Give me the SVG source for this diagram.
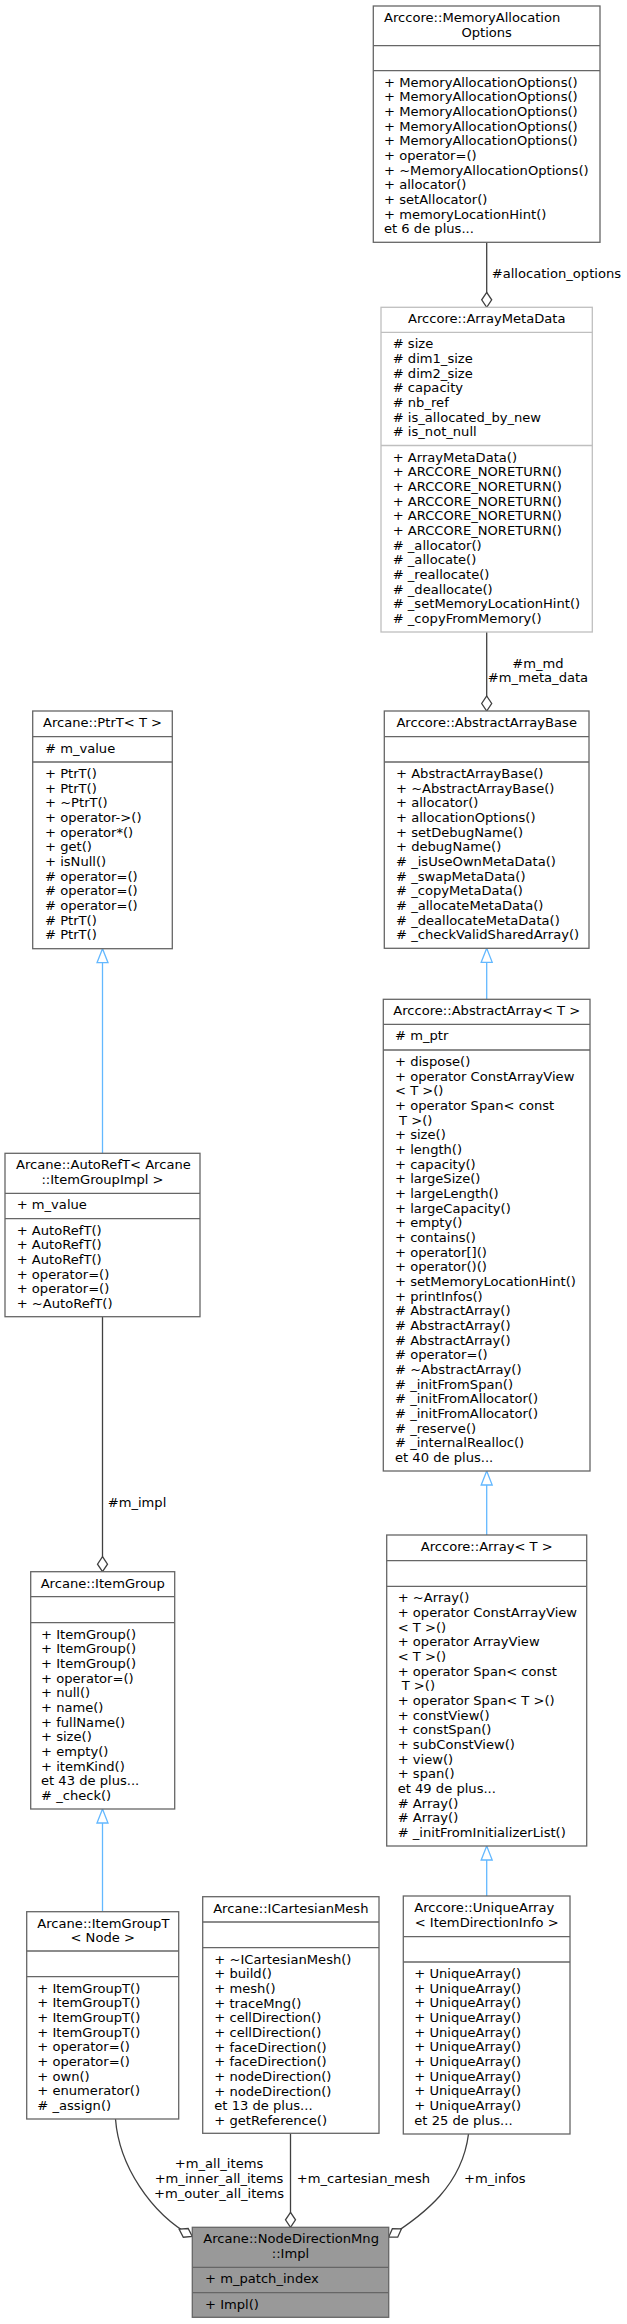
<svg xmlns="http://www.w3.org/2000/svg" width="627" height="2324" viewBox="0 0 627 2324">
<style>
text{font-family:"DejaVu Sans","Liberation Sans",sans-serif;font-size:13.1px;fill:#000}
.m{text-anchor:middle}
.box{fill:#fff;stroke:#666;stroke-width:1.3}
.light{stroke:#bfbfbf}
.main{fill:#999;stroke:#666}
.sep{stroke:#666;stroke-width:1.3}
.seplight{stroke:#bfbfbf;stroke-width:1.3}
.agg{fill:none;stroke:#404040;stroke-width:1.3}
.inh{fill:none;stroke:#63b8ff;stroke-width:1.3}
.lbl{fill:#000}
</style>
<defs>
<marker id="diamond" markerUnits="userSpaceOnUse" viewBox="-1 -7 17 14" refX="15" refY="0" markerWidth="17" markerHeight="14" orient="auto">
<path d="M0,0 L7.5,-5 L15,0 L7.5,5 Z" fill="#fff" stroke="#404040" stroke-width="1.3"/>
</marker>
<marker id="tri" markerUnits="userSpaceOnUse" viewBox="-1 -7 16 14" refX="14" refY="0" markerWidth="16" markerHeight="14" orient="auto">
<path d="M0,-5.5 L14,0 L0,5.5 Z" fill="#fff" stroke="#63b8ff" stroke-width="1.3"/>
</marker>
</defs>
<g id="edges">
<path class="agg" d="M486.7,242.3 V307.3" marker-end="url(#diamond)"/>
<text x="491.7" y="278">#allocation_options</text>
<path class="agg" d="M486.7,632 V711" marker-end="url(#diamond)"/>
<text class="m" x="538" y="667.5">#m_md</text>
<text class="m" x="538" y="682.2">#m_meta_data</text>
<path class="inh" d="M486.7,999.3 V948.3" marker-end="url(#tri)"/>
<path class="inh" d="M486.7,1535 V1471" marker-end="url(#tri)"/>
<path class="inh" d="M486.7,1896 V1846" marker-end="url(#tri)"/>
<path class="inh" d="M102.5,1153.3 V948.7" marker-end="url(#tri)"/>
<path class="agg" d="M102.5,1316.7 V1571.7" marker-end="url(#diamond)"/>
<text x="107.7" y="1506.7">#m_impl</text>
<path class="inh" d="M102.5,1911.7 V1809" marker-end="url(#tri)"/>
<path class="agg" d="M115.5,2119 C119,2165 150,2213 192.3,2236.5" marker-end="url(#diamond)"/>
<text class="m" x="219" y="2168.3">+m_all_items</text>
<text class="m" x="219" y="2183">+m_inner_all_items</text>
<text class="m" x="219" y="2197.7">+m_outer_all_items</text>
<path class="agg" d="M290.5,2133.3 V2227.3" marker-end="url(#diamond)"/>
<text x="296.7" y="2183">+m_cartesian_mesh</text>
<path class="agg" d="M468.5,2134 C462,2185 425,2214 388.7,2237" marker-end="url(#diamond)"/>
<text x="464" y="2183">+m_infos</text>
</g>
<g id="node-memoryallocationoptions">
<rect class="box" x="373.3" y="6" width="226.7" height="236.3"/>
<line class="sep" x1="373.3" y1="45.7" x2="600" y2="45.7"/>
<line class="sep" x1="373.3" y1="70.7" x2="600" y2="70.7"/>
<text x="384" y="22">Arccore::MemoryAllocation</text>
<text class="m" x="486.7" y="36.7">Options</text>
<text y="86.7"><tspan x="384">+ MemoryAllocationOptions()</tspan><tspan x="384" dy="14.67">+ MemoryAllocationOptions()</tspan><tspan x="384" dy="14.67">+ MemoryAllocationOptions()</tspan><tspan x="384" dy="14.67">+ MemoryAllocationOptions()</tspan><tspan x="384" dy="14.67">+ MemoryAllocationOptions()</tspan><tspan x="384" dy="14.67">+ operator=()</tspan><tspan x="384" dy="14.67">+ ~MemoryAllocationOptions()</tspan><tspan x="384" dy="14.67">+ allocator()</tspan><tspan x="384" dy="14.67">+ setAllocator()</tspan><tspan x="384" dy="14.67">+ memoryLocationHint()</tspan><tspan x="384" dy="14.67">et 6 de plus...</tspan></text>
</g>
<g id="node-arraymetadata">
<rect class="box light" x="381" y="307.3" width="211.3" height="324.7"/>
<line class="seplight" x1="381" y1="332.3" x2="592.3" y2="332.3"/>
<line class="seplight" x1="381" y1="445.5" x2="592.3" y2="445.5"/>
<text class="m" x="486.7" y="323.3">Arccore::ArrayMetaData</text>
<text y="348.3"><tspan x="392.7"># size</tspan><tspan x="392.7" dy="14.67"># dim1_size</tspan><tspan x="392.7" dy="14.67"># dim2_size</tspan><tspan x="392.7" dy="14.67"># capacity</tspan><tspan x="392.7" dy="14.67"># nb_ref</tspan><tspan x="392.7" dy="14.67"># is_allocated_by_new</tspan><tspan x="392.7" dy="14.67"># is_not_null</tspan></text>
<text y="461.5"><tspan x="392.7">+ ArrayMetaData()</tspan><tspan x="392.7" dy="14.67">+ ARCCORE_NORETURN()</tspan><tspan x="392.7" dy="14.67">+ ARCCORE_NORETURN()</tspan><tspan x="392.7" dy="14.67">+ ARCCORE_NORETURN()</tspan><tspan x="392.7" dy="14.67">+ ARCCORE_NORETURN()</tspan><tspan x="392.7" dy="14.67">+ ARCCORE_NORETURN()</tspan><tspan x="392.7" dy="14.67"># _allocator()</tspan><tspan x="392.7" dy="14.67"># _allocate()</tspan><tspan x="392.7" dy="14.67"># _reallocate()</tspan><tspan x="392.7" dy="14.67"># _deallocate()</tspan><tspan x="392.7" dy="14.67"># _setMemoryLocationHint()</tspan><tspan x="392.7" dy="14.67"># _copyFromMemory()</tspan></text>
</g>
<g id="node-abstractarraybase">
<rect class="box" x="384.3" y="711" width="204.7" height="237.3"/>
<line class="sep" x1="384.3" y1="736.7" x2="589" y2="736.7"/>
<line class="sep" x1="384.3" y1="762" x2="589" y2="762"/>
<text class="m" x="486.7" y="727">Arccore::AbstractArrayBase</text>
<text y="778"><tspan x="396">+ AbstractArrayBase()</tspan><tspan x="396" dy="14.67">+ ~AbstractArrayBase()</tspan><tspan x="396" dy="14.67">+ allocator()</tspan><tspan x="396" dy="14.67">+ allocationOptions()</tspan><tspan x="396" dy="14.67">+ setDebugName()</tspan><tspan x="396" dy="14.67">+ debugName()</tspan><tspan x="396" dy="14.67"># _isUseOwnMetaData()</tspan><tspan x="396" dy="14.67"># _swapMetaData()</tspan><tspan x="396" dy="14.67"># _copyMetaData()</tspan><tspan x="396" dy="14.67"># _allocateMetaData()</tspan><tspan x="396" dy="14.67"># _deallocateMetaData()</tspan><tspan x="396" dy="14.67"># _checkValidSharedArray()</tspan></text>
</g>
<g id="node-abstractarray">
<rect class="box" x="383.3" y="999.3" width="206.7" height="471.7"/>
<line class="sep" x1="383.3" y1="1024.3" x2="590" y2="1024.3"/>
<line class="sep" x1="383.3" y1="1050" x2="590" y2="1050"/>
<text class="m" x="486.7" y="1015.3">Arccore::AbstractArray&lt; T &gt;</text>
<text x="395" y="1040.3"># m_ptr</text>
<text y="1066"><tspan x="395">+ dispose()</tspan><tspan x="395" dy="14.67">+ operator ConstArrayView</tspan><tspan x="395" dy="14.67">&lt; T &gt;()</tspan><tspan x="395" dy="14.67">+ operator Span&lt; const</tspan><tspan x="399" dy="14.67">T &gt;()</tspan><tspan x="395" dy="14.67">+ size()</tspan><tspan x="395" dy="14.67">+ length()</tspan><tspan x="395" dy="14.67">+ capacity()</tspan><tspan x="395" dy="14.67">+ largeSize()</tspan><tspan x="395" dy="14.67">+ largeLength()</tspan><tspan x="395" dy="14.67">+ largeCapacity()</tspan><tspan x="395" dy="14.67">+ empty()</tspan><tspan x="395" dy="14.67">+ contains()</tspan><tspan x="395" dy="14.67">+ operator[]()</tspan><tspan x="395" dy="14.67">+ operator()()</tspan><tspan x="395" dy="14.67">+ setMemoryLocationHint()</tspan><tspan x="395" dy="14.67">+ printInfos()</tspan><tspan x="395" dy="14.67"># AbstractArray()</tspan><tspan x="395" dy="14.67"># AbstractArray()</tspan><tspan x="395" dy="14.67"># AbstractArray()</tspan><tspan x="395" dy="14.67"># operator=()</tspan><tspan x="395" dy="14.67"># ~AbstractArray()</tspan><tspan x="395" dy="14.67"># _initFromSpan()</tspan><tspan x="395" dy="14.67"># _initFromAllocator()</tspan><tspan x="395" dy="14.67"># _initFromAllocator()</tspan><tspan x="395" dy="14.67"># _reserve()</tspan><tspan x="395" dy="14.67"># _internalRealloc()</tspan><tspan x="395" dy="14.67">et 40 de plus...</tspan></text>
</g>
<g id="node-array">
<rect class="box" x="386.7" y="1535" width="200" height="311"/>
<line class="sep" x1="386.7" y1="1560.7" x2="586.7" y2="1560.7"/>
<line class="sep" x1="386.7" y1="1586.3" x2="586.7" y2="1586.3"/>
<text class="m" x="486.7" y="1551">Arccore::Array&lt; T &gt;</text>
<text y="1602.3"><tspan x="397.7">+ ~Array()</tspan><tspan x="397.7" dy="14.67">+ operator ConstArrayView</tspan><tspan x="397.7" dy="14.67">&lt; T &gt;()</tspan><tspan x="397.7" dy="14.67">+ operator ArrayView</tspan><tspan x="397.7" dy="14.67">&lt; T &gt;()</tspan><tspan x="397.7" dy="14.67">+ operator Span&lt; const</tspan><tspan x="401.7" dy="14.67">T &gt;()</tspan><tspan x="397.7" dy="14.67">+ operator Span&lt; T &gt;()</tspan><tspan x="397.7" dy="14.67">+ constView()</tspan><tspan x="397.7" dy="14.67">+ constSpan()</tspan><tspan x="397.7" dy="14.67">+ subConstView()</tspan><tspan x="397.7" dy="14.67">+ view()</tspan><tspan x="397.7" dy="14.67">+ span()</tspan><tspan x="397.7" dy="14.67">et 49 de plus...</tspan><tspan x="397.7" dy="14.67"># Array()</tspan><tspan x="397.7" dy="14.67"># Array()</tspan><tspan x="397.7" dy="14.67"># _initFromInitializerList()</tspan></text>
</g>
<g id="node-uniquearray">
<rect class="box" x="403.3" y="1896" width="166.7" height="238"/>
<line class="sep" x1="403.3" y1="1936.7" x2="570" y2="1936.7"/>
<line class="sep" x1="403.3" y1="1962" x2="570" y2="1962"/>
<text x="414.3" y="1912">Arccore::UniqueArray</text>
<text class="m" x="486.7" y="1926.7">&lt; ItemDirectionInfo &gt;</text>
<text y="1978"><tspan x="414.3">+ UniqueArray()</tspan><tspan x="414.3" dy="14.67">+ UniqueArray()</tspan><tspan x="414.3" dy="14.67">+ UniqueArray()</tspan><tspan x="414.3" dy="14.67">+ UniqueArray()</tspan><tspan x="414.3" dy="14.67">+ UniqueArray()</tspan><tspan x="414.3" dy="14.67">+ UniqueArray()</tspan><tspan x="414.3" dy="14.67">+ UniqueArray()</tspan><tspan x="414.3" dy="14.67">+ UniqueArray()</tspan><tspan x="414.3" dy="14.67">+ UniqueArray()</tspan><tspan x="414.3" dy="14.67">+ UniqueArray()</tspan><tspan x="414.3" dy="14.67">et 25 de plus...</tspan></text>
</g>
<g id="node-ptrt">
<rect class="box" x="32.7" y="711" width="139.6" height="237.7"/>
<line class="sep" x1="32.7" y1="736.7" x2="172.3" y2="736.7"/>
<line class="sep" x1="32.7" y1="762" x2="172.3" y2="762"/>
<text class="m" x="102.5" y="727">Arcane::PtrT&lt; T &gt;</text>
<text x="45" y="752.7"># m_value</text>
<text y="778"><tspan x="45">+ PtrT()</tspan><tspan x="45" dy="14.67">+ PtrT()</tspan><tspan x="45" dy="14.67">+ ~PtrT()</tspan><tspan x="45" dy="14.67">+ operator-&gt;()</tspan><tspan x="45" dy="14.67">+ operator*()</tspan><tspan x="45" dy="14.67">+ get()</tspan><tspan x="45" dy="14.67">+ isNull()</tspan><tspan x="45" dy="14.67"># operator=()</tspan><tspan x="45" dy="14.67"># operator=()</tspan><tspan x="45" dy="14.67"># operator=()</tspan><tspan x="45" dy="14.67"># PtrT()</tspan><tspan x="45" dy="14.67"># PtrT()</tspan></text>
</g>
<g id="node-autoreft">
<rect class="box" x="5" y="1153.3" width="195" height="163.4"/>
<line class="sep" x1="5" y1="1193.3" x2="200" y2="1193.3"/>
<line class="sep" x1="5" y1="1218.7" x2="200" y2="1218.7"/>
<text x="16" y="1169.3">Arcane::AutoRefT&lt; Arcane</text>
<text class="m" x="102.5" y="1184">::ItemGroupImpl &gt;</text>
<text x="16.7" y="1209.3">+ m_value</text>
<text y="1234.7"><tspan x="16.7">+ AutoRefT()</tspan><tspan x="16.7" dy="14.67">+ AutoRefT()</tspan><tspan x="16.7" dy="14.67">+ AutoRefT()</tspan><tspan x="16.7" dy="14.67">+ operator=()</tspan><tspan x="16.7" dy="14.67">+ operator=()</tspan><tspan x="16.7" dy="14.67">+ ~AutoRefT()</tspan></text>
</g>
<g id="node-itemgroup">
<rect class="box" x="30.7" y="1571.7" width="144" height="237.3"/>
<line class="sep" x1="30.7" y1="1596.7" x2="174.7" y2="1596.7"/>
<line class="sep" x1="30.7" y1="1622.7" x2="174.7" y2="1622.7"/>
<text class="m" x="102.7" y="1587.7">Arcane::ItemGroup</text>
<text y="1638.7"><tspan x="41">+ ItemGroup()</tspan><tspan x="41" dy="14.67">+ ItemGroup()</tspan><tspan x="41" dy="14.67">+ ItemGroup()</tspan><tspan x="41" dy="14.67">+ operator=()</tspan><tspan x="41" dy="14.67">+ null()</tspan><tspan x="41" dy="14.67">+ name()</tspan><tspan x="41" dy="14.67">+ fullName()</tspan><tspan x="41" dy="14.67">+ size()</tspan><tspan x="41" dy="14.67">+ empty()</tspan><tspan x="41" dy="14.67">+ itemKind()</tspan><tspan x="41" dy="14.67">et 43 de plus...</tspan><tspan x="41" dy="14.67"># _check()</tspan></text>
</g>
<g id="node-itemgroupt">
<rect class="box" x="26.7" y="1911.7" width="152" height="207.3"/>
<line class="sep" x1="26.7" y1="1951" x2="178.7" y2="1951"/>
<line class="sep" x1="26.7" y1="1976.7" x2="178.7" y2="1976.7"/>
<text x="37.3" y="1927.7">Arcane::ItemGroupT</text>
<text class="m" x="102.7" y="1942.3">&lt; Node &gt;</text>
<text y="1992.7"><tspan x="37.3">+ ItemGroupT()</tspan><tspan x="37.3" dy="14.67">+ ItemGroupT()</tspan><tspan x="37.3" dy="14.67">+ ItemGroupT()</tspan><tspan x="37.3" dy="14.67">+ ItemGroupT()</tspan><tspan x="37.3" dy="14.67">+ operator=()</tspan><tspan x="37.3" dy="14.67">+ operator=()</tspan><tspan x="37.3" dy="14.67">+ own()</tspan><tspan x="37.3" dy="14.67">+ enumerator()</tspan><tspan x="37.3" dy="14.67"># _assign()</tspan></text>
</g>
<g id="node-icartesianmesh">
<rect class="box" x="202.7" y="1896.7" width="176.3" height="236.6"/>
<line class="sep" x1="202.7" y1="1922" x2="379" y2="1922"/>
<line class="sep" x1="202.7" y1="1947.7" x2="379" y2="1947.7"/>
<text class="m" x="290.8" y="1912.7">Arcane::ICartesianMesh</text>
<text y="1963.7"><tspan x="214.3">+ ~ICartesianMesh()</tspan><tspan x="214.3" dy="14.67">+ build()</tspan><tspan x="214.3" dy="14.67">+ mesh()</tspan><tspan x="214.3" dy="14.67">+ traceMng()</tspan><tspan x="214.3" dy="14.67">+ cellDirection()</tspan><tspan x="214.3" dy="14.67">+ cellDirection()</tspan><tspan x="214.3" dy="14.67">+ faceDirection()</tspan><tspan x="214.3" dy="14.67">+ faceDirection()</tspan><tspan x="214.3" dy="14.67">+ nodeDirection()</tspan><tspan x="214.3" dy="14.67">+ nodeDirection()</tspan><tspan x="214.3" dy="14.67">et 13 de plus...</tspan><tspan x="214.3" dy="14.67">+ getReference()</tspan></text>
</g>
<g id="node-impl">
<rect class="box main" x="192.3" y="2227.3" width="196.4" height="90"/>
<line class="sep" x1="192.3" y1="2267.3" x2="388.7" y2="2267.3"/>
<line class="sep" x1="192.3" y1="2292.7" x2="388.7" y2="2292.7"/>
<text x="203.3" y="2243.3">Arcane::NodeDirectionMng</text>
<text class="m" x="290.5" y="2258">::Impl</text>
<text x="205" y="2283">+ m_patch_index</text>
<text x="205" y="2308.7">+ Impl()</text>
</g>
</svg>
